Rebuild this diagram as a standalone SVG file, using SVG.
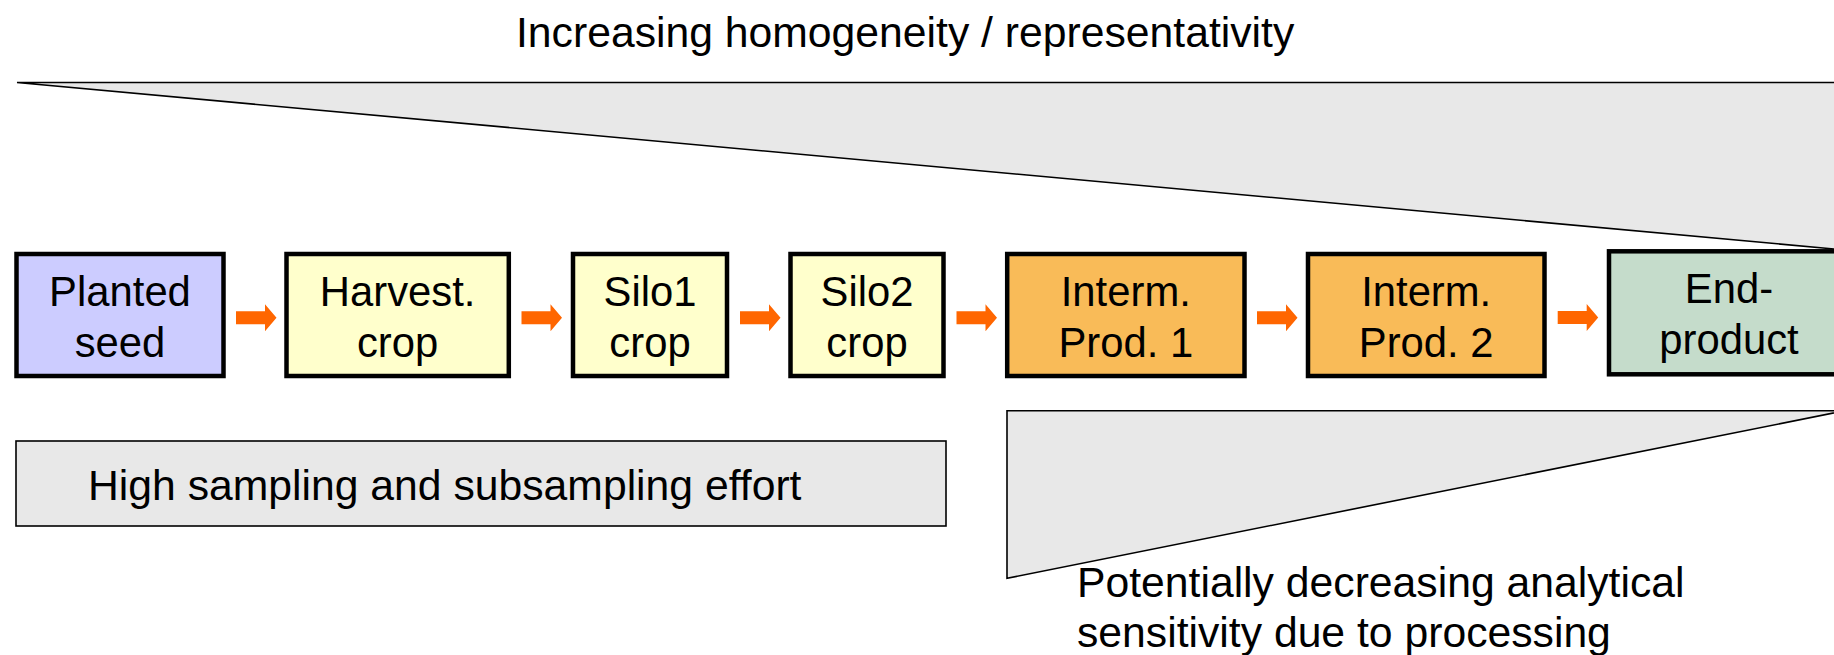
<svg xmlns="http://www.w3.org/2000/svg" xmlns:xlink="http://www.w3.org/1999/xlink" width="1834" height="655" viewBox="0 0 1834 655">
  <style>
    text { font-family: "Liberation Sans", Arial, sans-serif; fill: #000; }
    .lbl { font-size: 41.8px; text-anchor: middle; }
    .big { font-size: 42.7px; }
    .box { stroke: #000; stroke-width: 4.5; }
    .wedge { fill: #E8E8E8; stroke: #000; stroke-width: 1.6; stroke-linejoin: miter; }
    .seed { fill: #CCCCFF; }
    .crop { fill: #FFFFCC; }
    .inter { fill: #F9BB58; }
    .end { fill: #C5DCCB; }
    .flow { fill: #FF6600; }
  </style>
  <defs>
    <!-- block arrow, origin at the tail's vertical centre -->
    <path id="blockArrow" d="M0,-6.5 H29 V-13.5 L40.5,0 L29,13.5 V6.5 H0 Z"/>
  </defs>

  <rect width="1834" height="655" fill="#FFFFFF"/>

  <!-- upper wedge: homogeneity / representativity -->
  <g id="homogeneity">
    <polygon class="wedge" points="17,82.5 1845,82.5 1845,250"/>
    <text class="big" x="516" y="47">Increasing homogeneity / representativity</text>
  </g>

  <!-- process chain -->
  <g id="node-planted-seed">
    <rect class="box seed" x="16.5" y="254" width="207" height="122"/>
    <text class="lbl" x="120" y="305.5">Planted</text>
    <text class="lbl" x="120" y="357.3">seed</text>
  </g>
  <g id="node-harvest-crop">
    <rect class="box crop" x="286.5" y="254" width="222.3" height="122"/>
    <text class="lbl" x="397.6" y="305.5">Harvest.</text>
    <text class="lbl" x="397.6" y="357.3">crop</text>
  </g>
  <g id="node-silo1">
    <rect class="box crop" x="573" y="254" width="154" height="122"/>
    <text class="lbl" x="650" y="305.5">Silo1</text>
    <text class="lbl" x="650" y="357.3">crop</text>
  </g>
  <g id="node-silo2">
    <rect class="box crop" x="790.5" y="254" width="153" height="122"/>
    <text class="lbl" x="867" y="305.5">Silo2</text>
    <text class="lbl" x="867" y="357.3">crop</text>
  </g>
  <g id="node-interm1">
    <rect class="box inter" x="1007.2" y="254" width="237.3" height="122"/>
    <text class="lbl" x="1125.8" y="305.5">Interm.</text>
    <text class="lbl" x="1125.8" y="357.3">Prod. 1</text>
  </g>
  <g id="node-interm2">
    <rect class="box inter" x="1308" y="254" width="236.5" height="122"/>
    <text class="lbl" x="1426.2" y="305.5">Interm.</text>
    <text class="lbl" x="1426.2" y="357.3">Prod. 2</text>
  </g>
  <g id="node-end-product">
    <rect class="box end" x="1609" y="251.3" width="240" height="123"/>
    <text class="lbl" x="1729" y="302.5">End-</text>
    <text class="lbl" x="1729" y="354.3">product</text>
  </g>

  <g id="connectors" class="flow">
    <use xlink:href="#blockArrow" x="236" y="317.7"/>
    <use xlink:href="#blockArrow" x="521.5" y="317.7"/>
    <use xlink:href="#blockArrow" x="740" y="317.7"/>
    <use xlink:href="#blockArrow" x="956.5" y="317.7"/>
    <use xlink:href="#blockArrow" x="1257" y="317.7"/>
    <use xlink:href="#blockArrow" x="1557.7" y="317.5"/>
  </g>

  <!-- sampling effort bar -->
  <g id="sampling-effort">
    <rect class="wedge" x="16" y="441" width="930" height="85"/>
    <text class="big" x="88" y="500">High sampling and subsampling effort</text>
  </g>

  <!-- lower wedge: analytical sensitivity -->
  <g id="sensitivity">
    <polygon class="wedge" points="1007,410.7 1845,410.7 1007,578.3"/>
    <text class="big" x="1077" y="597">Potentially decreasing analytical</text>
    <text class="big" x="1077" y="647">sensitivity due to processing</text>
  </g>
</svg>
